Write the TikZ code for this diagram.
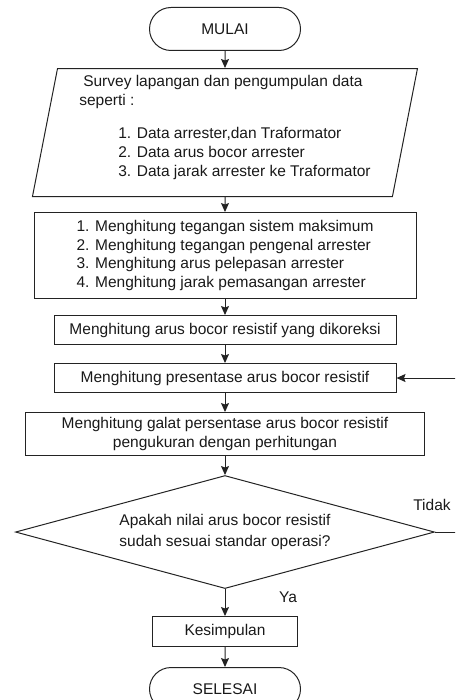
\documentclass[tikz,border=0pt]{standalone}
\usepackage{fontspec}
\setmainfont{Liberation Sans}
\usetikzlibrary{shapes.geometric, shapes.misc, arrows.meta, positioning}
\definecolor{linecolor}{RGB}{35, 35, 35}
\definecolor{textcolor}{RGB}{25, 25, 25}
\tikzset{
    base/.style={
        draw=linecolor,
        line width=1pt,
        text=textcolor,
        font=\fontsize{15.5}{18.7}\selectfont,
        inner sep=0pt,
        align=center
    },
    terminal/.style={
        base,
        rounded rectangle,
        minimum width=151pt,
        minimum height=43pt
    },
    process/.style={
        base,
        rectangle,
        minimum height=29pt
    },
    inputdata/.style={
        base,
        trapezium,
        trapezium left angle=77,
        trapezium right angle=103,
        trapezium stretches body=true,
        minimum width=385pt,
        minimum height=128pt
    },
    decision/.style={
        base,
        diamond,
        aspect=3.7,
        minimum width=419pt,
        minimum height=113pt
    },
    arrow/.style={
        line width=1pt,
        -{Stealth[length=9pt, width=8pt, inset=1.5pt]},
        color=linecolor
    },
    annotation/.style={
        font=\fontsize{15.5}{18.7}\selectfont,
        text=textcolor,
        inner sep=0pt
    }
}
\begin{document}
\begin{tikzpicture}[x=1pt, y=-1pt, node distance=17pt]
    \useasboundingbox (0,0) rectangle (455,700);
    \clip (0,0) rectangle (455,700);

    % Define main flow nodes
    \node (mulai) [terminal] at (225,29) {MULAI};
    \node (survey) [inputdata, below=17pt of mulai] {\raisebox{5pt}[\height][\depth]{\begin{tabular}{@{}l@{}}
        \hspace*{4pt}Survey lapangan dan pengumpulan data\\
        seperti :\\[15pt]
        \hspace*{39pt}1. Data arrester,dan Traformator\\
        \hspace*{39pt}2. Data arus bocor arrester\\
        \hspace*{39pt}3. Data jarak arrester ke Traformator
        \end{tabular}}};
    \node (hitung) [process, below=15pt of survey, minimum width=382pt, minimum height=86pt, align=left] {1. Menghitung tegangan sistem maksimum\\
        2. Menghitung tegangan pengenal arrester\\
        3. Menghitung arus pelepasan arrester\\
        4. Menghitung jarak pemasangan arrester};
    \node (koreksi) [process, below=16pt of hitung, minimum width=342pt] {Menghitung arus bocor resistif yang dikoreksi};
    \node (persen) [process, below=18pt of koreksi, minimum width=342pt] {Menghitung presentase arus bocor resistif};
    \node (galat) [process, below=19pt of persen, minimum width=399pt, minimum height=43pt] {Menghitung galat persentase arus bocor resistif\\pengukuran dengan perhitungan};
    \node (cek) [decision, below=19pt of galat] {Apakah nilai arus bocor resistif\\[2pt]sudah sesuai standar operasi?};
    \node (simpul) [process, below=27pt of cek, minimum width=145pt, minimum height=30pt] {Kesimpulan};
    \node (selesai) [terminal, below=20pt of simpul] {SELESAI};

    % Draw main arrows
    \draw [arrow] (mulai) -- (survey);
    \draw [arrow] (survey) -- (hitung);
    \draw [arrow] (hitung) -- (koreksi);
    \draw [arrow] (koreksi) -- (persen);
    \draw [arrow] (persen) -- (galat);
    \draw [arrow] (galat) -- (cek);
    \draw [arrow] (cek) -- (simpul);
    \draw [arrow] (simpul) -- (selesai);
    \draw [arrow] (cek.east) -- ++(40pt,0) |- (persen.east);

    % Add decision labels
    \node (tidak) [annotation, above=21pt of cek.east, xshift=-3pt] {Tidak};
    \node (ya) [annotation, below right=3pt and 54pt of cek.south] {Ya};

\end{tikzpicture}
\end{document}
